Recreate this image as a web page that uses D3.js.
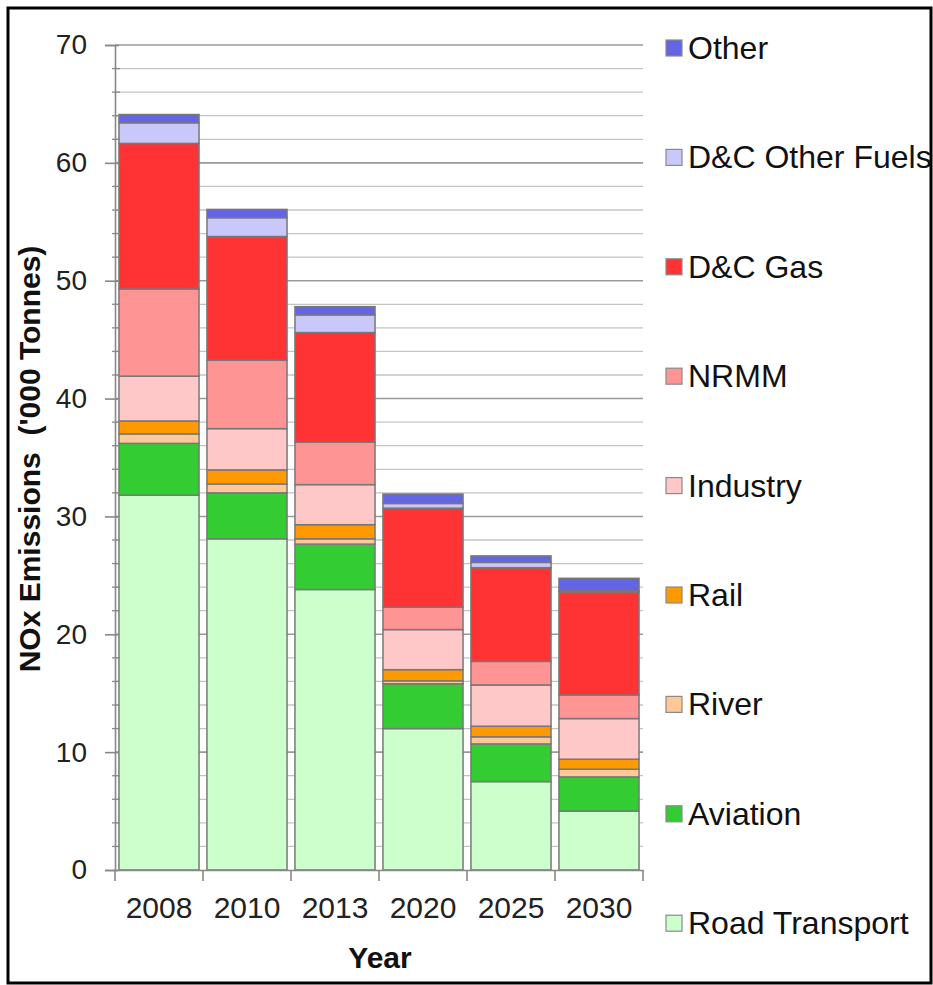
<!DOCTYPE html>
<html>
<head>
<meta charset="utf-8">
<script src="https://cdn.jsdelivr.net/npm/d3@7"></script>
<style>
  html, body { margin: 0; padding: 0; background: #fff; }
  svg { display: block; }
  text { font-family: "Liberation Sans", Arial, sans-serif; }
</style>
</head>
<body>
<svg id="chart" width="933" height="985"></svg>
<script>
// ---- data ----
const years = ["2008", "2010", "2013", "2020", "2025", "2030"];
const seriesNames = ["Road Transport", "Aviation", "River", "Rail", "Industry", "NRMM", "D&C Gas", "D&C Other Fuels", "Other"];
const roadTransport = [31.8, 28.1, 23.8, 12.0, 7.5, 5.0];
const aviation      = [4.4, 3.9, 3.85, 3.8, 3.2, 2.9];
const river         = [0.8, 0.75, 0.45, 0.25, 0.6, 0.65];
const rail          = [1.1, 1.2, 1.2, 0.95, 0.9, 0.85];
const industry      = [3.8, 3.5, 3.4, 3.4, 3.5, 3.45];
const nrmm          = [7.4, 5.8, 3.6, 1.9, 2.0, 2.0];
const dcGas         = [12.35, 10.5, 9.3, 8.4, 7.95, 8.75];
const dcOtherFuels  = [1.75, 1.6, 1.5, 0.4, 0.45, 0.1];
const other         = [0.7, 0.7, 0.7, 0.8, 0.55, 1.05];
const yTicks = [0, 10, 20, 30, 40, 50, 60, 70];
const colors = ["#ccffcc", "#33cc33", "#ffc896", "#ff9900", "#ffc8c8", "#ff9494", "#ff3333", "#c8c8fa", "#6464e6"];

const seriesValues = [roadTransport, aviation, river, rail, industry, nrmm, dcGas, dcOtherFuels, other];
const table = years.map((y, i) => {
  const row = { year: y };
  seriesNames.forEach((s, k) => row[s] = seriesValues[k][i]);
  return row;
});

// ---- layout ----
const svg = d3.select("#chart");
const x = d3.scaleBand().domain(years).range([115, 643]).paddingInner(0.09).paddingOuter(0.045);
const y = d3.scaleLinear().domain([0, 70]).range([870, 45]);
const color = d3.scaleOrdinal().domain(seriesNames).range(colors);

// outer frame
svg.append("rect").attr("x", 8).attr("y", 8).attr("width", 923).attr("height", 975)
  .attr("fill", "none").attr("stroke", "#000").attr("stroke-width", 3);

// minor gridlines
const minor = d3.range(2, 70, 2).filter(v => v % 10 !== 0);
svg.append("g").selectAll("line").data(minor).join("line")
  .attr("x1", 115).attr("x2", 643).attr("y1", d => y(d)).attr("y2", d => y(d))
  .attr("stroke", "#c4c4c4").attr("stroke-width", 1.3);
// major gridlines
svg.append("g").selectAll("line").data(yTicks.slice(1)).join("line")
  .attr("x1", 115).attr("x2", 643).attr("y1", d => y(d)).attr("y2", d => y(d))
  .attr("stroke", "#9a9a9a").attr("stroke-width", 1.6);

// bars
const stack = d3.stack().keys(seriesNames);
const stacked = stack(table);
svg.append("g").selectAll("g").data(stacked).join("g")
  .attr("fill", d => color(d.key))
  .selectAll("rect").data(d => d).join("rect")
  .attr("x", d => x(d.data.year))
  .attr("width", x.bandwidth())
  .attr("y", d => y(d[1]))
  .attr("height", d => y(d[0]) - y(d[1]))
  .attr("stroke", "#787878").attr("stroke-width", 1.5);

// y axis
const yAxis = d3.axisLeft(y).tickValues(yTicks).tickSize(10).tickPadding(18);
const gy = svg.append("g").attr("transform", "translate(115,0)").call(yAxis);
gy.select(".domain").attr("stroke", "#888").attr("stroke-width", 1.6);
gy.selectAll(".tick line").attr("stroke", "#888").attr("stroke-width", 1.6).attr("x2", -10).attr("x1", 4);
gy.selectAll(".tick text").attr("font-size", 28).attr("fill", "#222")
  .attr("font-family", "'Liberation Sans', Arial, sans-serif");
// minor ticks on y axis
svg.append("g").selectAll("line").data(minor).join("line")
  .attr("x1", 112).attr("x2", 120).attr("y1", d => y(d)).attr("y2", d => y(d))
  .attr("stroke", "#888").attr("stroke-width", 1.3);

// x axis
const xAxis = d3.axisBottom(x).tickSize(0).tickPadding(27);
const gx = svg.append("g").attr("transform", "translate(0,870)").call(xAxis);
gx.select(".domain").attr("stroke", "#888").attr("stroke-width", 1.6);
gx.selectAll(".tick text").attr("font-size", 30).attr("fill", "#222")
  .attr("font-family", "'Liberation Sans', Arial, sans-serif");
// boundary ticks between categories
const bounds = years.map(d => x(d) - x.step() * x.paddingInner() / 2);
bounds.push(643);
bounds[0] = 115;
svg.append("g").selectAll("line").data(bounds).join("line")
  .attr("x1", d => d).attr("x2", d => d).attr("y1", 870).attr("y2", 881)
  .attr("stroke", "#888").attr("stroke-width", 1.6);

// axis titles
svg.append("text").attr("x", 380).attr("y", 968).attr("text-anchor", "middle")
  .attr("font-size", 30).attr("font-weight", "bold").attr("fill", "#111").text("Year");
svg.append("text").attr("transform", "translate(40,459) rotate(-90)")
  .attr("text-anchor", "middle").attr("font-size", 30).attr("font-weight", "bold")
  .attr("fill", "#111").style("white-space", "pre").text("NOx Emissions  ('000 Tonnes)");

// legend
const legendOrder = seriesNames.slice().reverse();
const lg = svg.append("g").selectAll("g").data(legendOrder).join("g")
  .attr("transform", (d, i) => `translate(666, ${48 + i * 109.4})`);
lg.append("rect").attr("x", 0).attr("y", -8).attr("width", 16).attr("height", 16)
  .attr("fill", d => color(d)).attr("stroke", "#8a8a8a").attr("stroke-width", 1.2);
lg.append("text").attr("x", 22).attr("y", 11).attr("font-size", 32).attr("fill", "#111").text(d => d);
</script>
</body>
</html>
